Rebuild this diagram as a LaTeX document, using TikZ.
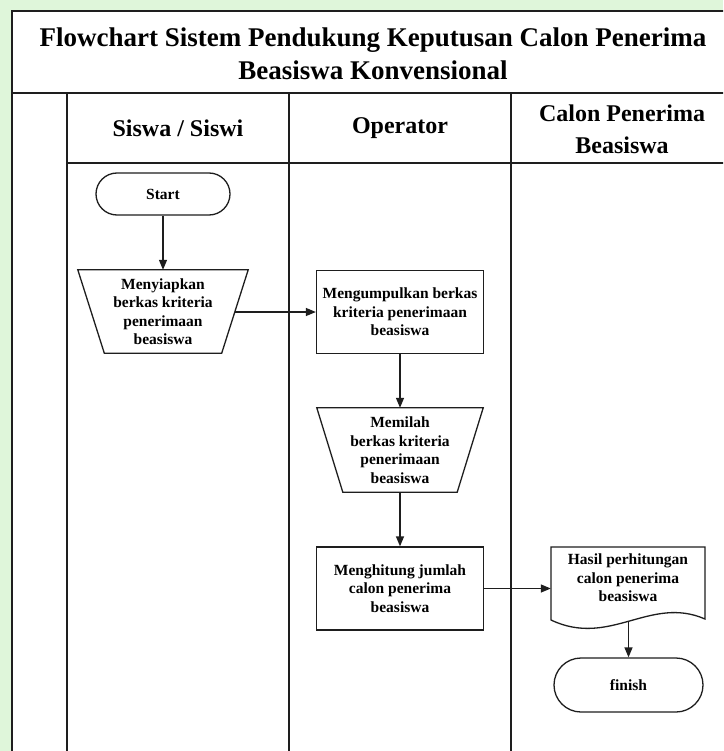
\documentclass[tikz,border=0pt]{standalone}
\usepackage{fontspec}
\setmainfont{Liberation Serif}
\usetikzlibrary{arrows.meta,shapes.misc,calc}
\definecolor{bgpale}{HTML}{DFF6DA}
\definecolor{ink}{HTML}{1E1E1E}
\begin{document}
\begin{tikzpicture}[x=1pt,y=-1pt,
  frameline/.style={draw=ink,line width=1.8pt},
  laneline/.style={draw=ink,line width=1.5pt},
  titletext/.style={font=\bfseries\fontsize{27}{33}\selectfont,align=center,text=black},
  headtext/.style={font=\bfseries\fontsize{24}{32}\selectfont,align=center,text=black},
  boxtext/.style={font=\bfseries\fontsize{15.5}{18.5}\selectfont,align=center,text=black,inner sep=2pt},
  procbox/.style={boxtext,draw=ink,line width=1.3pt,minimum width=167pt,minimum height=83pt},
  terminal/.style={boxtext,draw=ink,line width=1.3pt,rounded rectangle},
  flowarrow/.style={draw=ink,line width=1.3pt,-{Triangle[length=10pt,width=8pt]}},
  shapeline/.style={draw=ink,line width=1.3pt,line join=miter},
]
\useasboundingbox (0,0) rectangle (723,751);
\clip (0,0) rectangle (723,751);
\fill[bgpale] (0,0) rectangle (723,751);
\fill[white] (12,11) rectangle (740,760);

% swimlane frame
\draw[frameline] (12,760) -- (12,11) -- (740,11);
\draw[draw=ink,line width=2.8pt] (12,93) -- (740,93);
\draw[laneline] (67,93) -- (67,760);
\draw[laneline] (289,93) -- (289,760);
\draw[laneline] (511,93) -- (511,760);
\draw[laneline] (67,163) -- (740,163);

% titles
\node[titletext] (title) at (373,53.5) {Flowchart Sistem Pendukung Keputusan Calon Penerima\\Beasiswa Konvensional};
\node[headtext] (h1) at (178,128) {Siswa / Siswi};
\node[headtext] (h2) at (400,128) {Operator};
\node[headtext] (h3) at (622,129) {Calon Penerima\\Beasiswa};

% flow elements
\node[terminal,minimum width=138pt,minimum height=42pt] (start) at (163,194) {Start};

\node[boxtext,minimum width=170pt,minimum height=83pt] (t1) at (163,311.5)
  {Menyiapkan\\berkas kriteria\\penerimaan\\beasiswa};
\draw[shapeline] (t1.north west) -- (t1.north east) -- ($(t1.south east)+(-26.5,0)$)
  -- ($(t1.south west)+(26.5,0)$) -- cycle;

\node[procbox] (m1) at (400,312) {Mengumpulkan berkas\\kriteria penerimaan\\beasiswa};

\node[boxtext,minimum width=166pt,minimum height=84pt] (t2) at (400,450)
  {Memilah\\berkas kriteria\\penerimaan\\beasiswa};
\draw[shapeline] (t2.north west) -- (t2.north east) -- ($(t2.south east)+(-26,0)$)
  -- ($(t2.south west)+(26,0)$) -- cycle;

\node[procbox] (m3) at (400,588.5) {Menghitung jumlah\\calon penerima\\beasiswa};

\node[boxtext,minimum width=154pt] (doc) at (628,578) {Hasil perhitungan\\calon penerima\\beasiswa};
\draw[shapeline] (551,620) -- (551,547) -- (705,547) -- (705,619)
  .. controls (650,595) and (610,648) .. (551,620) -- cycle;

\node[terminal,minimum width=153pt,minimum height=54pt] (fin) at (628.5,685) {finish};

% connectors
\coordinate (t1r) at ($(t1.east)+(-13.25,0.5)$);
\coordinate (docb) at (628.5,621);
\draw[flowarrow] (start.south) -- (t1.north);
\draw[flowarrow] (t1r) -- (t1r -| m1.west);
\draw[flowarrow] (m1.south) -- (t2.north);
\draw[flowarrow] (t2.south) -- (m3.north);
\draw[flowarrow] (m3.east) -- (m3.east -| doc.west);
\draw[flowarrow] (docb) -- (fin.north);
\end{tikzpicture}
\end{document}
